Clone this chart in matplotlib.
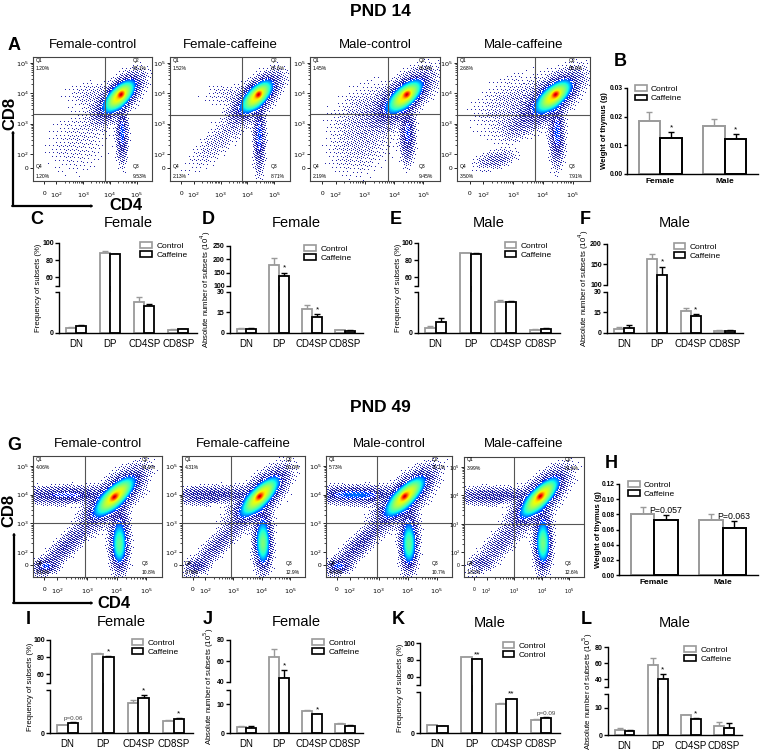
import numpy as np
import matplotlib
matplotlib.use('Agg')
import matplotlib.pyplot as plt
import matplotlib.transforms as mtransforms
from matplotlib.patches import Rectangle, FancyArrowPatch

plt.rcParams['font.family'] = ['Liberation Sans', 'DejaVu Sans']

W, H = 760, 752

# ---------------- data ----------------
flow_titles = ['Female-control', 'Female-caffeine', 'Male-control', 'Male-caffeine']
# quadrant percentages: Q1, Q2, Q3, Q4
quad_14 = [['1.20%', '88.1%', '9.53%', '1.20%'],
           ['1.52%', '87.6%', '8.71%', '2.13%'],
           ['1.45%', '86.9%', '9.45%', '2.19%'],
           ['2.68%', '85.9%', '7.91%', '3.50%']]
quad_49 = [['4.06%', '81.9%', '10.8%', '3.18%'],
           ['4.31%', '80.0%', '12.9%', '2.79%'],
           ['5.73%', '79.1%', '10.7%', '4.43%'],
           ['3.99%', '81.6%', '12.6%', '1.82%']]

# cell populations (log10 CD4, log10 CD8, sd1, sd2, angle, weight)
pops_14 = [
    [(4.43, 3.97, 0.07, 0.05, 40, 1.0), (4.38, 3.92, 0.30, 0.14, 40, 0.30),
     (4.30, 3.85, 0.50, 0.22, 40, 0.04), (4.47, 2.70, 0.10, 0.45, 0, 0.025),
     (3.40, 3.95, 0.55, 0.25, 0, 0.0012), (2.80, 2.40, 0.70, 0.60, 30, 0.0008)],
    [(4.42, 3.97, 0.07, 0.05, 40, 1.0), (4.37, 3.92, 0.30, 0.14, 40, 0.30),
     (4.30, 3.85, 0.50, 0.22, 40, 0.04), (4.45, 2.60, 0.10, 0.55, 0, 0.025),
     (3.40, 3.95, 0.55, 0.20, 0, 0.0012), (3.00, 2.50, 0.80, 0.25, 40, 0.0018)],
    [(4.45, 3.97, 0.07, 0.05, 40, 1.0), (4.40, 3.92, 0.30, 0.14, 40, 0.30),
     (4.30, 3.85, 0.55, 0.24, 40, 0.04), (4.48, 2.70, 0.12, 0.45, 0, 0.022),
     (3.20, 3.30, 0.70, 0.50, 30, 0.0022), (2.80, 2.20, 0.60, 0.50, 30, 0.0012)],
    [(4.40, 3.97, 0.07, 0.05, 40, 1.0), (4.35, 3.92, 0.30, 0.14, 40, 0.30),
     (4.25, 3.85, 0.55, 0.24, 40, 0.04), (4.45, 2.70, 0.12, 0.50, 0, 0.025),
     (2.40, 1.80, 0.35, 0.15, 15, 0.005), (3.10, 2.90, 0.30, 0.20, 40, 0.003),
     (3.20, 3.60, 0.80, 0.50, 20, 0.002)],
]
pops_49 = [
    [(3.93, 3.93, 0.08, 0.05, 45, 1.0), (3.95, 3.95, 0.38, 0.14, 45, 0.30),
     (3.90, 3.90, 0.60, 0.24, 45, 0.04), (4.10, 2.25, 0.12, 0.35, 0, 0.09),
     (4.10, 2.60, 0.16, 0.60, 0, 0.02), (2.30, 4.00, 0.80, 0.14, 0, 0.02),
     (2.30, 2.20, 0.70, 0.16, 45, 0.010), (1.60, 1.50, 0.20, 0.12, 0, 0.02)],
    [(3.93, 3.95, 0.08, 0.05, 45, 1.0), (3.95, 3.95, 0.38, 0.14, 45, 0.30),
     (3.90, 3.90, 0.60, 0.24, 45, 0.04), (4.05, 2.30, 0.12, 0.35, 0, 0.11),
     (4.05, 2.60, 0.16, 0.60, 0, 0.02), (2.30, 4.00, 0.80, 0.14, 0, 0.016),
     (2.40, 2.20, 0.70, 0.16, 45, 0.008), (1.70, 1.50, 0.20, 0.12, 0, 0.012)],
    [(3.90, 3.95, 0.08, 0.05, 45, 1.0), (3.92, 3.95, 0.38, 0.14, 45, 0.30),
     (3.90, 3.90, 0.60, 0.24, 45, 0.04), (4.05, 2.25, 0.12, 0.35, 0, 0.09),
     (4.05, 2.60, 0.16, 0.60, 0, 0.02), (2.20, 4.00, 0.70, 0.14, 0, 0.03),
     (2.30, 2.20, 0.70, 0.16, 45, 0.012), (1.60, 1.50, 0.20, 0.12, 0, 0.02)],
    [(3.95, 3.98, 0.08, 0.05, 45, 1.0), (3.95, 3.95, 0.38, 0.14, 45, 0.30),
     (3.90, 3.90, 0.60, 0.24, 45, 0.04), (4.05, 2.30, 0.12, 0.35, 0, 0.10),
     (4.05, 2.60, 0.16, 0.60, 0, 0.02), (2.30, 4.00, 0.80, 0.14, 0, 0.014),
     (2.50, 2.30, 0.70, 0.20, 45, 0.006), (1.80, 1.60, 0.20, 0.12, 0, 0.008)],
]

groups = ['DN', 'DP', 'CD4SP', 'CD8SP']

# PND 14
c_ctrl = [1.5, 88.5, 9.45, 1.0]
c_ctrl_err = [0.2, 1.9, 1.6, 0.1]
c_caf = [2.1, 87.3, 8.3, 1.1]
c_caf_err = [0.2, 0.3, 0.6, 0.2]

d_ctrl = [2.9, 178.7, 17.8, 2.0]
d_ctrl_err = [1.0, 27.0, 2.9, 0.2]
d_caf = [3.2, 138.0, 11.7, 1.7]
d_caf_err = [0.5, 12.0, 2.4, 0.5]

e_ctrl = [1.5, 88.3, 9.45, 1.0]
e_ctrl_err = [0.6, 0.4, 0.6, 0.3]
e_caf = [3.25, 87.2, 9.35, 1.3]
e_caf_err = [1.35, 1.1, 0.4, 0.3]

f_ctrl = [2.9, 162.6, 15.9, 1.7]
f_ctrl_err = [1.2, 12.4, 2.1, 0.3]
f_caf = [3.9, 125.0, 12.7, 1.7]
f_caf_err = [1.9, 20.0, 1.4, 0.3]

b_ctrl = [0.0186, 0.0166]
b_ctrl_err = [0.0029, 0.0026]
b_caf = [0.0125, 0.0121]
b_caf_err = [0.0020, 0.0018]

# PND 49
i_ctrl = [2.7, 84.3, 10.5, 4.2]
i_ctrl_err = [0.2, 0.7, 1.0, 0.25]
i_caf = [3.4, 80.4, 12.1, 4.8]
i_caf_err = [0.35, 0.8, 1.1, 0.4]

j_ctrl = [2.0, 63.6, 7.8, 3.2]
j_ctrl_err = [0.35, 7.9, 0.2, 0.45]
j_caf = [1.9, 44.1, 6.5, 2.6]
j_caf_err = [0.45, 6.9, 0.2, 0.3]

k_ctrl = [2.76, 83.2, 10.6, 4.8]
k_ctrl_err = [0.14, 0.3, 0.2, 0.2]
k_caf = [2.5, 80.4, 12.4, 5.4]
k_caf_err = [0.14, 0.8, 0.2, 0.4]

l_ctrl = [2.0, 58.1, 7.3, 3.3]
l_ctrl_err = [0.7, 8.7, 0.2, 1.5]
l_caf = [1.4, 39.6, 6.0, 2.7]
l_caf_err = [0.4, 6.6, 0.2, 1.8]

h_ctrl = [0.0807, 0.0723]
h_ctrl_err = [0.0084, 0.0080]
h_caf = [0.0719, 0.0622]
h_caf_err = [0.0066, 0.0084]

sex = ['Female', 'Male']

GRAY = '#9a9a9a'


def rect(x0, y0, x1, y1):
    return [x0 / W, 1 - y1 / H, (x1 - x0) / W, (y1 - y0) / H]


def ftext(x, y, s, **kw):
    fig.text(x / W, 1 - y / H, s, **kw)


def flow_plot(box, xr, yr, zero, gates, pops, quads, title, title_y, small=False):
    x0, y0, x1, y1 = box
    ax = fig.add_axes(rect(*box))
    nx, ny = int(x1 - x0), int(y1 - y0)
    xs = np.linspace(xr[0], xr[1], nx)
    ys = np.linspace(yr[0], yr[1], ny)
    X, Y = np.meshgrid(xs, ys)
    d = np.zeros_like(X)
    for cx, cy, s1, s2, ang, w in pops:
        t = np.radians(ang)
        u = (X - cx) * np.cos(t) + (Y - cy) * np.sin(t)
        v = -(X - cx) * np.sin(t) + (Y - cy) * np.cos(t)
        d += w * np.exp(-0.5 * ((u / s1) ** 2 + (v / s2) ** 2))
    lev = np.log10(d / d.max() + 1e-12)
    # ordered (R2) dither pattern so thin regions read as single events
    jj, ii = np.meshgrid(np.arange(nx), np.arange(ny))
    thr = (jj * 0.7548776662 + ii * 0.5698402910) % 1.0
    img = np.ones((ny, nx, 4))
    hi = -1.9
    f = np.clip((lev - hi) / (-hi), 0, 1)
    col = (lev > hi) & ((f / 0.18 + 0.25) > thr)
    rgba = plt.get_cmap('jet')(0.13 + 0.8 * f)
    img[col] = rgba[col]
    p = np.clip((lev + 4.3) / (hi + 4.3), 0, 1) ** 2 * 0.75
    dots = (lev <= hi) & (p > thr)
    img[dots] = matplotlib.colors.to_rgba('#2626a8')
    ax.imshow(img, extent=[xr[0], xr[1], yr[0], yr[1]], origin='lower',
              aspect='auto', interpolation='nearest')
    ax.set_xlim(xr)
    ax.set_ylim(yr)
    ax.axvline(gates[0], color='#555555', lw=0.8)
    ax.axhline(gates[1], color='#555555', lw=0.8)
    for s in ax.spines.values():
        s.set_color('#444444')
        s.set_linewidth(0.8)
    tl = [zero, 2, 3, 4, 5]
    labs = ['0', '$10^2$', '$10^3$', '$10^4$', '$10^5$']
    fs = 3.6 if small else 4.6
    ax.set_xticks(tl)
    ax.set_xticklabels(labs, fontsize=fs)
    ax.set_yticks(tl)
    ax.set_yticklabels(labs, fontsize=fs)
    minor = [dd + np.log10(k) for dd in (2, 3, 4) for k in range(2, 10)]
    ax.set_xticks(minor, minor=True)
    ax.set_yticks(minor, minor=True)
    ax.tick_params(axis='x', length=2, width=0.6, pad=5)
    ax.tick_params(axis='y', length=2, width=0.6, pad=1)
    ax.tick_params(which='minor', length=1.2, width=0.5)
    qs = 3.6
    for tx, ty, s in ((0.02, 0.975, 'Q1'), (0.02, 0.905, quads[0]),
                      (0.84, 0.975, 'Q2'), (0.84, 0.905, quads[1]),
                      (0.84, 0.115, 'Q3'), (0.84, 0.04, quads[2]),
                      (0.02, 0.115, 'Q4'), (0.02, 0.04, quads[3])):
        ax.text(tx, ty, s, transform=ax.transAxes, fontsize=qs, va='center')
    ftext((x0 + x1) / 2, title_y, title, ha='center', va='center', fontsize=9.5)


def draw_bars(ax, ctrl, ctrl_err, caf, caf_err, width):
    x = np.arange(len(ctrl))
    ax.bar(x - width / 2, ctrl, width, facecolor='white', edgecolor=GRAY, linewidth=1.3, zorder=2)
    ax.bar(x + width / 2, caf, width, facecolor='white', edgecolor='black', linewidth=1.3, zorder=2)
    ax.errorbar(x - width / 2, ctrl, yerr=[np.zeros(len(ctrl)), ctrl_err], fmt='none',
                ecolor=GRAY, elinewidth=1.0, capsize=2.2, capthick=1.0, zorder=1)
    ax.errorbar(x + width / 2, caf, yerr=[np.zeros(len(caf)), caf_err], fmt='none',
                ecolor='black', elinewidth=1.0, capsize=2.2, capthick=1.0, zorder=1)


def legend(ax, fx, fy, labels):
    hs = [Rectangle((0, 0), 1, 1, facecolor='white', edgecolor=GRAY, linewidth=1.2),
          Rectangle((0, 0), 1, 1, facecolor='white', edgecolor='black', linewidth=1.2)]
    ax.legend(hs, labels, loc='upper left', bbox_to_anchor=(fx, fy), frameon=False,
              fontsize=6, handlelength=1.4, handleheight=0.7, labelspacing=0.15,
              borderpad=0, borderaxespad=0, handletextpad=0.5)


def subsets(x0, x1, bot, top, bot_lim, top_lim, bot_ticks, top_ticks,
            ctrl, ctrl_err, caf, caf_err, marks, ylabel, ylab_x, title, letter,
            head_y, leg_x, leg_labels):
    width = 0.3
    axb = fig.add_axes(rect(x0, bot[0], x1, bot[1]))
    axt = fig.add_axes(rect(x0, top[0], x1, top[1]))
    for ax, lim, ticks in ((axb, bot_lim, bot_ticks), (axt, top_lim, top_ticks)):
        draw_bars(ax, ctrl, ctrl_err, caf, caf_err, width)
        ax.set_xlim(-0.5, 3.55)
        ax.set_ylim(lim)
        ax.spines['top'].set_visible(False)
        ax.spines['right'].set_visible(False)
        ax.spines['left'].set_linewidth(1.0)
        tk = sorted(set(ticks) | set(lim))
        ax.set_yticks(tk)
        ax.set_yticklabels([('%g' % t) if t in ticks else '' for t in tk],
                           fontsize=5, fontweight='bold')
        ax.tick_params(axis='y', length=3, width=1.0, pad=0.8)
    axt.spines['bottom'].set_visible(False)
    axt.set_xticks([])
    axb.spines['bottom'].set_linewidth(1.0)
    axb.set_xticks(np.arange(len(groups)))
    axb.set_xticklabels(groups, fontsize=7)
    axb.tick_params(axis='x', length=0, pad=4)
    # tall bars keep their sides across the axis break
    tr = mtransforms.blended_transform_factory(axb.transData, fig.transFigure)
    yb_top, yt_bot = 1 - bot[0] / H, 1 - top[1] / H
    for i in range(len(groups)):
        for val, off, c in ((ctrl[i], -width / 2, GRAY), (caf[i], width / 2, 'black')):
            if val > bot_lim[1]:
                for xe in (i + off - width / 2, i + off + width / 2):
                    axb.plot([xe, xe], [yb_top, yt_bot], transform=tr, color=c,
                             lw=1.3, clip_on=False, solid_capstyle='butt')
    # significance marks over caffeine bars
    for i, m in enumerate(marks):
        if not m:
            continue
        v = caf[i] + caf_err[i]
        ax = axt if v > bot_lim[1] else axb
        lim = top_lim if ax is axt else bot_lim
        small = m.startswith('p')
        ax.text(i + width / 2, v + 0.02 * (lim[1] - lim[0]), m, ha='center', va='bottom',
                fontsize=4.5 if small else 6, color='#444444' if small else 'black')
    legend(axt, leg_x, 1.02, leg_labels)
    ftext(ylab_x, (top[0] + bot[1]) / 2, ylabel, rotation=90, ha='center', va='center',
          fontsize=5.6)
    ftext((x0 + x1) / 2, head_y, title, ha='center', va='center', fontsize=10.5)
    ftext(x0 - 22, head_y - 3, letter, ha='center', va='center', fontsize=13, fontweight='bold')


def weight(box, ctrl, ctrl_err, caf, caf_err, ylim, ticks, marks, leg_x, ylab_x):
    ax = fig.add_axes(rect(*box))
    width = 0.34
    x = np.arange(2)
    ax.bar(x - width / 2, ctrl, width, facecolor='white', edgecolor=GRAY, linewidth=1.4, zorder=2)
    ax.bar(x + width / 2, caf, width, facecolor='white', edgecolor='black', linewidth=1.4, zorder=2)
    ax.errorbar(x - width / 2, ctrl, yerr=[[0, 0], ctrl_err], fmt='none', ecolor=GRAY,
                elinewidth=1.0, capsize=2.5, capthick=1.0, zorder=1)
    ax.errorbar(x + width / 2, caf, yerr=[[0, 0], caf_err], fmt='none', ecolor='black',
                elinewidth=1.0, capsize=2.5, capthick=1.0, zorder=1)
    ax.set_xlim(-0.52, 1.52)
    ax.set_ylim(ylim)
    ax.set_yticks(ticks)
    ax.set_yticklabels(['%.2f' % t for t in ticks], fontsize=4.8, fontweight='bold')
    ax.set_xticks(x)
    ax.set_xticklabels(sex, fontsize=6, fontweight='bold')
    ax.tick_params(axis='x', length=0, pad=3)
    ax.tick_params(axis='y', length=2.5, width=1.0, pad=0.8)
    ax.spines['top'].set_visible(False)
    ax.spines['right'].set_visible(False)
    ax.spines['left'].set_linewidth(1.0)
    ax.spines['bottom'].set_linewidth(1.0)
    for i, m in enumerate(marks):
        v = caf[i] + caf_err[i]
        if m == '*':
            ax.text(i + width / 2, v + 0.0003, m, ha='center', va='bottom', fontsize=6)
        else:
            ax.text(i + width / 2, v + 0.001, m, ha='center', va='bottom', fontsize=6.3)
    legend(ax, leg_x, 1.03, ['Control', 'Caffeine'])
    ftext(ylab_x, (box[1] + box[3]) / 2, 'Weight of thymus (g)', rotation=90, ha='center',
          va='center', fontsize=5.6, fontweight='bold')


def axis_arrows(xv, ytop, yb, xr, cd8_xy, cd4_xy):
    kw = dict(arrowstyle='-|>,head_length=0.5,head_width=0.25', color='black', lw=1.6,
              shrinkA=0, shrinkB=0)
    fig.add_artist(FancyArrowPatch((xv / W, 1 - yb / H), (xv / W, 1 - ytop / H),
                                   transform=fig.transFigure, **kw))
    fig.add_artist(FancyArrowPatch(((xv - 0.8) / W, 1 - yb / H), (xr / W, 1 - yb / H),
                                   transform=fig.transFigure, **kw))
    ftext(cd8_xy[0], cd8_xy[1], 'CD8', rotation=90, ha='center', va='center',
          fontsize=12, fontweight='bold')
    ftext(cd4_xy[0], cd4_xy[1], 'CD4', ha='center', va='center', fontsize=12, fontweight='bold')


fig = plt.figure(figsize=(7.6, 7.52), dpi=100)

# ---------------- PND 14 ----------------
ftext(380, 12, 'PND 14', ha='center', va='center', fontsize=12.5, fontweight='bold')
ftext(14, 46, 'A', ha='center', va='center', fontsize=13, fontweight='bold')
boxes_14 = [(33, 57, 152, 181), (170, 57, 290, 181), (310, 57, 440, 181), (457, 57, 590, 181)]
gates_14 = [(3.81, 3.31), (3.81, 3.3), (3.81, 3.31), (3.74, 3.3)]
for k in range(4):
    flow_plot(boxes_14[k], (1.12, 5.58), (1.11, 5.2), 1.54, gates_14[k], pops_14[k],
              quad_14[k], flow_titles[k], 45)
axis_arrows(13, 130, 206, 94, (9.5, 113), (126, 206))

ftext(620, 62, 'B', ha='center', va='center', fontsize=13, fontweight='bold')
weight((627, 88, 758, 174), b_ctrl, b_ctrl_err, b_caf, b_caf_err, (0, 0.03),
       [0, 0.01, 0.02, 0.03], ['*', '*'], 0.06, 605)

freq_lab = 'Frequency of subsets (%)'
abs14_lab = 'Absolute number of subsets (10$^4$)'
abs49_lab = 'Absolute number of subsets (10$^5$)'

subsets(59, 197, (292, 333), (243, 286), (0, 12.5), (50, 100), [0], [60, 80, 100],
        c_ctrl, c_ctrl_err, c_caf, c_caf_err, ['', '', '', ''], freq_lab, 39,
        'Female', 'C', 223, 0.59, ['Control', 'Caffeine'])
subsets(230, 363, (292, 333), (246, 286), (0, 30), (100, 250), [0, 15, 30],
        [100, 150, 200, 250], d_ctrl, d_ctrl_err, d_caf, d_caf_err, ['', '*', '*', ''],
        abs14_lab, 206, 'Female', 'D', 223, 0.56, ['Control', 'Caffeine'])
subsets(418, 560, (292, 333), (243, 286), (0, 12.5), (50, 100), [0], [60, 80, 100],
        e_ctrl, e_ctrl_err, e_caf, e_caf_err, ['', '', '', ''], freq_lab, 398.5,
        'Male', 'E', 223, 0.61, ['Control', 'Caffeine'])
subsets(607, 743, (292, 333), (244, 285), (0, 30), (100, 200), [0, 15, 30],
        [100, 150, 200], f_ctrl, f_ctrl_err, f_caf, f_caf_err, ['', '*', '*', ''],
        abs14_lab, 584, 'Male', 'F', 223, 0.49, ['Control', 'Caffeine'])

# ---------------- PND 49 ----------------
ftext(380, 408, 'PND 49', ha='center', va='center', fontsize=12.5, fontweight='bold')
ftext(14, 445, 'G', ha='center', va='center', fontsize=13, fontweight='bold')
boxes_49 = [(33, 456, 162, 577), (182, 456, 305, 577), (326, 456, 452, 577), (464, 457, 584, 577)]
gates_49 = [(2.95, 3.0), (2.9, 3.0), (2.95, 3.0), (3.0, 3.0)]
for k in range(4):
    flow_plot(boxes_49[k], (1.18, 5.53), (1.13, 5.35), 1.56, gates_49[k], pops_49[k],
              quad_49[k], flow_titles[k], 444, small=(k == 3))
axis_arrows(14, 532, 603, 94, (8.5, 510), (114, 604))

ftext(611, 463, 'H', ha='center', va='center', fontsize=13, fontweight='bold')
weight((619, 484, 758, 575), h_ctrl, h_ctrl_err, h_caf, h_caf_err, (0, 0.12),
       [0, 0.02, 0.04, 0.06, 0.08, 0.10, 0.12], ['P=0.057', 'P=0.063'], 0.065, 598)

subsets(50, 193, (690, 733), (640, 683), (0, 15), (50, 100), [0], [60, 80, 100],
        i_ctrl, i_ctrl_err, i_caf, i_caf_err, ['p=0.06', '*', '*', '*'], freq_lab, 31,
        'Female', 'I', 622, 0.57, ['Control', 'Caffeine'])
subsets(230, 363, (690, 733), (640, 682), (0, 15), (40, 80), [0, 10], [40, 60, 80],
        j_ctrl, j_ctrl_err, j_caf, j_caf_err, ['', '*', '*', ''], abs49_lab, 209,
        'Female', 'J', 622, 0.62, ['Control', 'Caffeine'])
subsets(420, 560, (692, 733), (643, 685), (0, 15), (50, 100), [0], [60, 80, 100],
        k_ctrl, k_ctrl_err, k_caf, k_caf_err, ['', '**', '**', 'p=0.09'], freq_lab, 400,
        'Male', 'K', 623, 0.59, ['Control', 'Control'])
subsets(608, 742, (694, 735), (647, 687), (0, 15), (30, 80), [0, 10], [40, 60, 80],
        l_ctrl, l_ctrl_err, l_caf, l_caf_err, ['', '*', '*', ''], abs49_lab, 588,
        'Male', 'L', 623, 0.57, ['Control', 'Caffeine'])

fig.savefig('out.png', dpi=100, facecolor='white')
